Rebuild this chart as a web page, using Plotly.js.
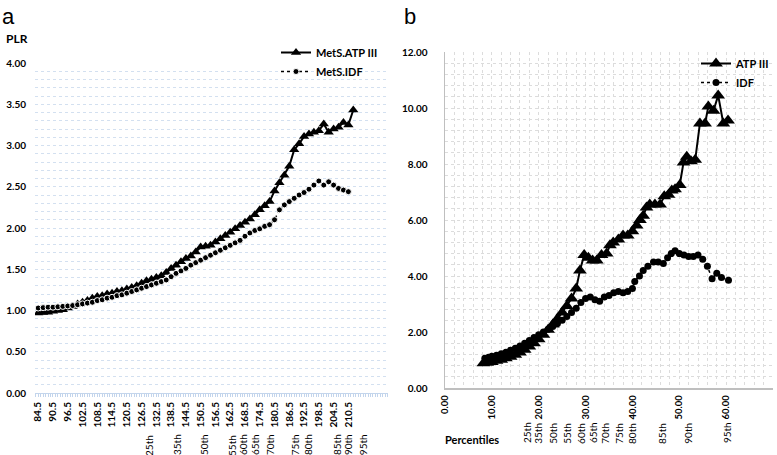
<!DOCTYPE html>
<html>
<head>
<meta charset="utf-8">
<script src="https://cdn.plot.ly/plotly-3.0.1.min.js"></script>
<style>
  html, body { margin: 0; padding: 0; background: #fff; }
  #chart { width: 777px; height: 455px; }
</style>
</head>
<body>
<div id="chart"></div>
<script>
// Panel a - PLR by waist circumference category
const aX = [84.5, 86.5, 88.5, 90.5, 92.5, 94.5, 96.5, 98.5, 100.5, 102.5, 104.5, 106.5, 108.5,
    110.5, 112.5, 114.5, 116.5, 118.5, 120.5, 122.5, 124.5, 126.5, 128.5, 130.5, 132.5, 134.5,
    136.5, 138.5, 140.5, 142.5, 144.5, 146.5, 148.5, 150.5, 152.5, 154.5, 156.5, 158.5, 160.5,
    162.5, 164.5, 166.5, 168.5, 170.5, 172.5, 174.5, 176.5, 178.5, 180.5, 182.5, 184.5, 186.5,
    188.5, 190.5, 192.5, 194.5, 196.5, 198.5, 200.5, 202.5, 204.5, 206.5, 208.5, 210.5, 212.5];
const aATP = [0.97, 0.975, 0.98, 0.99, 1.00, 1.01, 1.03, 1.05, 1.08, 1.10, 1.12, 1.15, 1.17,
    1.18, 1.20, 1.21, 1.23, 1.24, 1.26, 1.28, 1.30, 1.33, 1.36, 1.38, 1.40, 1.42,
    1.46, 1.51, 1.55, 1.59, 1.63, 1.66, 1.71, 1.77, 1.78, 1.79, 1.83, 1.87, 1.91,
    1.95, 1.99, 2.03, 2.07, 2.11, 2.16, 2.22, 2.27, 2.32, 2.45, 2.55, 2.64, 2.75,
    2.95, 3.02, 3.11, 3.14, 3.16, 3.18, 3.26, 3.16, 3.20, 3.22, 3.28, 3.25, 3.43];
const aIDF = [1.03, 1.035, 1.04, 1.04, 1.045, 1.05, 1.055, 1.06, 1.07, 1.08, 1.09, 1.10, 1.12,
    1.13, 1.15, 1.16, 1.18, 1.19, 1.21, 1.23, 1.25, 1.27, 1.29, 1.31, 1.33, 1.35,
    1.37, 1.41, 1.45, 1.48, 1.51, 1.55, 1.58, 1.61, 1.64, 1.67, 1.70, 1.73, 1.76,
    1.79, 1.82, 1.85, 1.90, 1.94, 1.97, 1.99, 2.02, 2.04, 2.10, 2.22, 2.28, 2.32,
    2.36, 2.40, 2.43, 2.47, 2.52, 2.57, 2.52, 2.56, 2.52, 2.48, 2.46, 2.44];
const aTicks = [84.5, 90.5, 96.5, 102.5, 108.5, 114.5, 120.5, 126.5, 132.5, 138.5, 144.5,
    150.5, 156.5, 162.5, 168.5, 174.5, 180.5, 186.5, 192.5, 198.5, 204.5, 210.5];
const aPctLabels = ['25th', '35th', '50th', '55th', '60th', '65th', '70th', '75th', '80th', '85th', '90th', '95th'];
const aPctPos = [129.5, 140.9, 151.9, 163.2, 167.7, 172.6, 178.7, 188.9, 194.1, 205.9, 210.4, 216.5];

// Panel b
const bATPx = [8.2, 9, 10, 11, 12, 13, 14, 15, 16, 17, 18, 19, 20, 21, 22, 23, 24, 25, 26, 27, 28,
    28.8, 29.7, 30.6, 31.5, 32.4, 33.4, 34.5, 35.2, 35.9, 37, 38, 39, 40, 40.9, 41.6, 42.3, 43,
    43.7, 44.8, 45.9, 46.8, 47.7, 48.4, 49.1, 50.1, 50.9, 51.6, 52.5, 53.4, 54.4, 55.5, 56.2,
    57.3, 58.3, 59.4, 60.4];
const bATPy = [0.88, 0.9, 0.93, 0.97, 1.01, 1.06, 1.12, 1.19, 1.27, 1.37, 1.48, 1.6, 1.74, 1.9, 2.08,
    2.27, 2.47, 2.7, 2.93, 3.2, 3.55, 4.2, 4.75, 4.65, 4.55, 4.55, 4.75, 4.8, 5.1, 5.2, 5.3, 5.45,
    5.45, 5.6, 5.8, 6.0, 6.15, 6.45, 6.55, 6.55, 6.55, 6.85, 6.9, 7.05, 7.1, 7.25, 8.05, 8.26,
    8.1, 8.15, 9.45, 9.45, 10.05, 9.9, 10.45, 9.45, 9.55];
const bIDFx = [8.5, 9.3, 10, 11, 12, 13, 14, 15, 16, 17, 18, 19, 20, 21, 22, 23, 24, 25, 26, 27,
    28, 29, 30, 31, 32, 33, 34, 35, 36, 37, 38, 39, 40, 40.5, 41.5, 42.3, 43.3, 44.5, 45.5, 46.6,
    47.5, 48.3, 49.1, 50, 51, 52, 53, 54, 55, 56, 57, 58, 59, 60.5];
const bIDFy = [1.06, 1.1, 1.13, 1.17, 1.22, 1.28, 1.35, 1.42, 1.5, 1.6, 1.7, 1.8, 1.9, 2.0, 2.1,
    2.2, 2.3, 2.42, 2.55, 2.7, 2.85, 3.05, 3.2, 3.25, 3.15, 3.1, 3.25, 3.3, 3.4, 3.45, 3.4, 3.45,
    3.55, 3.8, 4.0, 4.2, 4.35, 4.5, 4.5, 4.45, 4.65, 4.8, 4.9, 4.8, 4.75, 4.7, 4.7, 4.75, 4.6,
    4.35, 3.9, 4.1, 3.95, 3.85];
const bPctLabels = ['25th', '35th', '50th', '55th', '60th', '65th', '70th', '75th', '80th', '85th', '90th', '95th'];
const bPctPos = [17.5, 19.8, 23.0, 26.0, 29.0, 31.6, 34.1, 37.1, 39.9, 46.3, 51.8, 60.2];

const FONT = 'Lato, "Open Sans", sans-serif';
const W = 777, H = 455;
const px = v => v / W;
const py = v => 1 - v / H;

function createPlrCharts() {
    if (typeof Plotly === 'undefined') return;

    const traces = [
        {
            x: aX, y: aATP, xaxis: 'x', yaxis: 'y', legend: 'legend',
            type: 'scatter', mode: 'lines+markers', name: 'MetS.ATP III',
            line: { color: '#000', width: 2 },
            marker: { symbol: 'triangle-up', size: 9, color: '#000' }
        },
        {
            x: aX, y: aIDF, xaxis: 'x', yaxis: 'y', legend: 'legend',
            type: 'scatter', mode: 'lines+markers', name: 'MetS.IDF',
            line: { color: '#000', width: 1.5, dash: 'dot' },
            marker: { symbol: 'circle', size: 6, color: '#000', line: { color: '#fff', width: 1 } }
        },
        {
            x: bATPx, y: bATPy, xaxis: 'x2', yaxis: 'y2', legend: 'legend2',
            type: 'scatter', mode: 'lines+markers', name: 'ATP III',
            line: { color: '#000', width: 2 },
            marker: { symbol: 'triangle-up', size: 12, color: '#000' }
        },
        {
            x: bIDFx, y: bIDFy, xaxis: 'x2', yaxis: 'y2', legend: 'legend2',
            type: 'scatter', mode: 'lines+markers', name: 'IDF',
            line: { color: '#000', width: 1.5, dash: 'dot' },
            marker: { symbol: 'circle', size: 7, color: '#000' }
        }
    ];

    const tickFont = { family: FONT, size: 10, color: '#000', weight: 'bold' };
    const legendBase = {
        bgcolor: 'rgba(0,0,0,0)', xanchor: 'left', yanchor: 'top',
        font: { family: FONT, size: 11, color: '#000', weight: 'bold' },
        itemwidth: 30, tracegroupgap: 0
    };

    const annotations = [
        { text: 'a', x: px(0), y: py(2), xanchor: 'left', yanchor: 'top', font: { family: 'Liberation Sans', size: 22, color: '#000' } },
        { text: 'b', x: px(402), y: py(2), xanchor: 'left', yanchor: 'top', font: { family: 'Liberation Sans', size: 22, color: '#000' } },
        { text: 'PLR', x: px(17), y: py(38), xanchor: 'center', yanchor: 'middle', font: { family: FONT, size: 12, color: '#000', weight: 'bold' } },
        { text: 'Percentiles', x: px(472), y: py(439), xanchor: 'center', yanchor: 'middle', font: { family: FONT, size: 11, color: '#000', weight: 'bold' } }
    ];
    aPctLabels.forEach((lab, i) => annotations.push({
        text: lab, x: aPctPos[i], xref: 'x', y: py(445), yref: 'paper', textangle: -90,
        xanchor: 'center', yanchor: 'middle', font: { family: FONT, size: 10, color: '#000' }
    }));
    bPctLabels.forEach((lab, i) => annotations.push({
        text: lab, x: bPctPos[i], xref: 'x2', y: py(433), yref: 'paper', textangle: -90,
        xanchor: 'center', yanchor: 'middle', font: { family: FONT, size: 10, color: '#000' }
    }));
    annotations.forEach(a => {
        if (!a.xref) a.xref = 'paper';
        if (!a.yref) a.yref = 'paper';
        a.showarrow = false;
    });

    const layout = {
        width: W, height: H,
        margin: { l: 0, r: 0, t: 0, b: 0 },
        paper_bgcolor: '#fff', plot_bgcolor: '#fff',
        font: { family: FONT, color: '#000' },
        showlegend: true,
        xaxis: {
            domain: [px(35), px(388)], range: [83.2, 226.6], anchor: 'y',
            tickmode: 'array', tickvals: aTicks, ticktext: aTicks.map(v => v.toFixed(1)),
            tickangle: -90, tickfont: tickFont, ticks: '', showgrid: false, zeroline: false,
            showline: true, linecolor: '#c3d5ec', linewidth: 1,
            minor: { tick0: 84.5, dtick: 1, ticks: 'outside', ticklen: 3, tickcolor: '#c3d5ec', showgrid: false },
            ticklabelstandoff: 4
        },
        yaxis: {
            domain: [1 - 393 / H, 1 - 63 / H], range: [0, 4], anchor: 'x',
            dtick: 0.5, tickformat: '.2f', tickfont: tickFont, ticks: '',
            showgrid: true, gridcolor: '#d3e0f0', griddash: 'dot', gridwidth: 1,
            minor: { dtick: 0.1, showgrid: true, gridcolor: '#d3e0f0', griddash: 'dot', gridwidth: 1 },
            zeroline: false, showline: false, ticklabelstandoff: 8
        },
        xaxis2: {
            domain: [px(445), px(773)], range: [0, 70], anchor: 'y2',
            dtick: 10, tickformat: '.2f', tickangle: -90,
            tickfont: { family: FONT, size: 9.5, color: '#000', weight: 'bold' }, ticks: '',
            showgrid: true, gridcolor: '#dcdcdc', griddash: 'dot', gridwidth: 1,
            minor: { dtick: 2, showgrid: true, gridcolor: '#dcdcdc', griddash: 'dot', gridwidth: 1 },
            zeroline: false, showline: true, linecolor: '#bfbfbf', linewidth: 1.5,
            ticklabelstandoff: 2
        },
        yaxis2: {
            domain: [1 - 388 / H, 1 - 52 / H], range: [0, 12], anchor: 'x2',
            dtick: 2, tickformat: '.2f', tickfont: tickFont, ticks: '',
            showgrid: true, gridcolor: '#dcdcdc', griddash: 'dot', gridwidth: 1,
            minor: { dtick: 0.4, showgrid: true, gridcolor: '#dcdcdc', griddash: 'dot', gridwidth: 1 },
            zeroline: false, showline: true, linecolor: '#bfbfbf', linewidth: 1.5,
            ticklabelstandoff: 14
        },
        legend: Object.assign({}, legendBase, { x: px(276), y: py(38) }),
        legend2: Object.assign({}, legendBase, { x: px(696), y: py(49) }),
        annotations: annotations
    };

    try {
        Plotly.newPlot('chart', traces, layout, { displayModeBar: false, staticPlot: true });
    } catch (error) {
        console.log('Error creating PLR charts:', error);
    }
}

createPlrCharts();
</script>
</body>
</html>
